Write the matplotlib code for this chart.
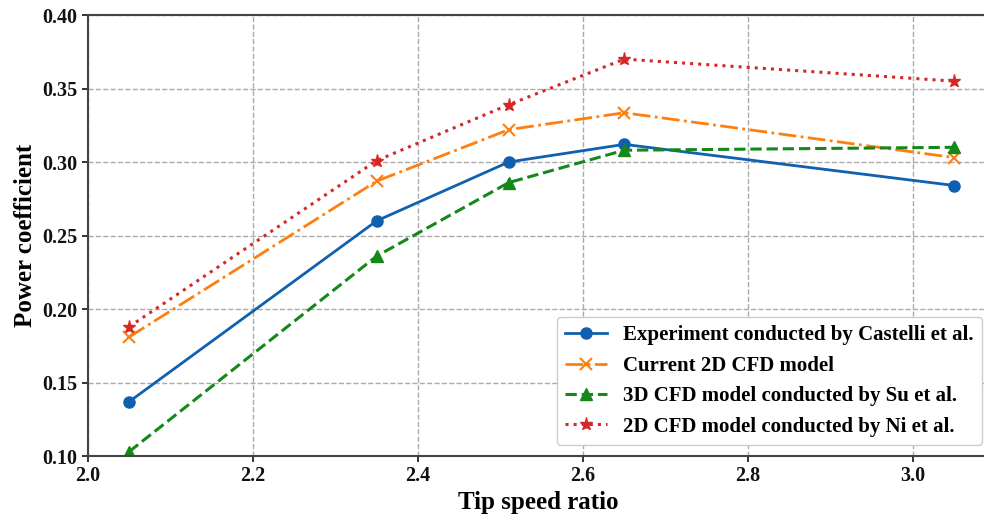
import numpy as np
import matplotlib.pyplot as plt

plt.rcParams['font.family'] = 'Liberation Serif'
plt.rcParams['font.weight'] = 'bold'

# Tip speed ratio values
tsr = [2.05, 2.35, 2.51, 2.65, 3.05]

# Power coefficient for each data source
cp_castelli = [0.137, 0.260, 0.300, 0.312, 0.284]
cp_current = [0.181, 0.287, 0.322, 0.3335, 0.303]
cp_su = [0.103, 0.236, 0.286, 0.308, 0.310]
cp_ni = [0.188, 0.301, 0.339, 0.370, 0.355]

fig = plt.figure(figsize=(9.84, 5.19), dpi=100)
ax = fig.add_axes([88/984, 63/519, 0.915, 441/519])

ax.plot(tsr, cp_castelli, color="#1060b0", linestyle="-", marker="o", markersize=8,
        linewidth=2, label="Experiment conducted by Castelli et al.")
ax.plot(tsr, cp_current, color="#ff7f0e", linestyle="-.", marker="x", markersize=9,
        markeredgewidth=1.5, linewidth=2, label="Current 2D CFD model")
ax.plot(tsr, cp_su, color="#14891a", linestyle="--", marker="^", markersize=9,
        linewidth=2.2, label="3D CFD model conducted by Su et al.")
ax.plot(tsr, cp_ni, color="#d62728", linestyle=":", marker="*", markersize=9.5,
        linewidth=2.2, label="2D CFD model conducted by Ni et al.")

ax.set_xlim(2.0, 2.0 + 0.915*984/825)
ax.set_ylim(0.10, 0.40)
ax.set_xticks([2.0, 2.2, 2.4, 2.6, 2.8, 3.0])
ax.set_yticks([0.10, 0.15, 0.20, 0.25, 0.30, 0.35, 0.40])
ax.set_yticklabels(["%.2f" % v for v in ax.get_yticks()])
ax.tick_params(labelsize=14.5, colors="#111111", width=1.2, length=4)
for s in ax.spines.values():
    s.set_color("#444444")
    s.set_linewidth(1.5)

ax.grid(True, linestyle="--", color="#aaaaaa", linewidth=1)
ax.set_xlabel("Tip speed ratio", fontsize=18, fontweight="bold", labelpad=3)
ax.set_ylabel("Power coefficient", fontsize=18, fontweight="bold")

ax.legend(loc="lower right", prop={'weight': 'bold', 'size': 15},
          framealpha=1, edgecolor="#cccccc", borderaxespad=0,
          bbox_to_anchor=(0.993, 0.025), handletextpad=0.8)

fig.savefig("out.png", dpi=100)
